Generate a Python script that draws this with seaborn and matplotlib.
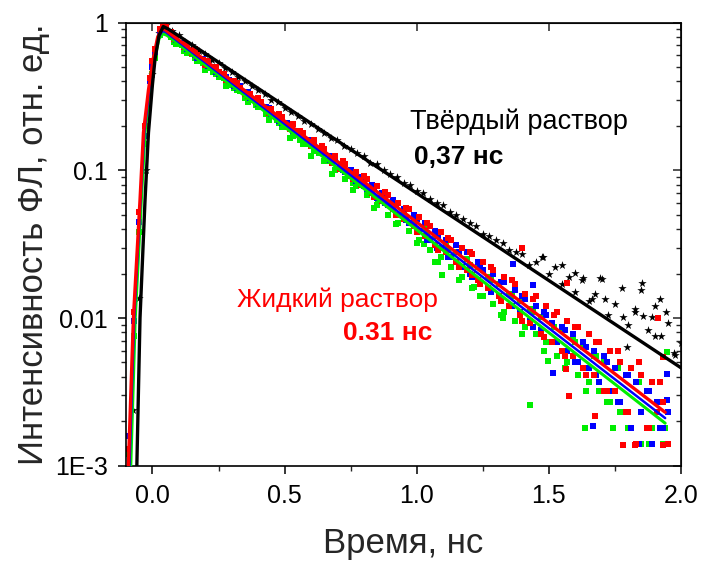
import matplotlib
matplotlib.use("Agg")
import matplotlib.pyplot as plt
import seaborn as sns
import numpy as np
from matplotlib.ticker import LogLocator, NullFormatter, MultipleLocator, FixedLocator, FixedFormatter

# ---------------- data ----------------
# time channels, liquid solution (ns)
t_liq = [-0.09, -0.07, -0.05, -0.03, -0.01, 0.01, 0.03, 0.05, 0.07, 0.09,
         0.11, 0.13, 0.15, 0.17, 0.19, 0.21, 0.23, 0.25, 0.27, 0.29,
         0.31, 0.33, 0.35, 0.37, 0.39, 0.41, 0.43, 0.45, 0.47, 0.49,
         0.51, 0.53, 0.55, 0.57, 0.59, 0.61, 0.63, 0.65, 0.67, 0.69,
         0.71, 0.73, 0.75, 0.77, 0.79, 0.81, 0.83, 0.85, 0.87, 0.89,
         0.91, 0.93, 0.95, 0.97, 0.99, 1.01, 1.03, 1.05, 1.07, 1.09,
         1.11, 1.13, 1.15, 1.17, 1.19, 1.21, 1.23, 1.25, 1.27, 1.29,
         1.31, 1.33, 1.35, 1.37, 1.39, 1.41, 1.43, 1.45, 1.47, 1.49,
         1.51, 1.53, 1.55, 1.57, 1.59, 1.61, 1.63, 1.65, 1.67, 1.69,
         1.71, 1.73, 1.75, 1.77, 1.79, 1.81, 1.83, 1.85, 1.87, 1.89,
         1.91, 1.93, 1.95]

red_pts = [0.0013, 0.011, 0.052, 0.20, 0.42, 0.66, 0.90, 0.93, 0.86, 0.80,
           0.72, 0.70, 0.62, 0.60, 0.56, 0.55, 0.49, 0.46, 0.45, 0.40,
           0.40, 0.36, 0.33, 0.33, 0.29, 0.29, 0.26, 0.26, 0.225, 0.23,
           0.20, 0.205, 0.175, 0.18, 0.155, 0.16, 0.135, 0.14, 0.12, 0.125,
           0.102, 0.11, 0.092, 0.097, 0.080, 0.088, 0.070, 0.078, 0.062, 0.068,
           0.055, 0.060, 0.047, 0.055, 0.042, 0.048, 0.036, 0.042, 0.031, 0.038,
           0.028, 0.034, 0.024, 0.030, 0.021, 0.027, 0.018, 0.024, 0.016, 0.021,
           0.014, 0.019, 0.012, 0.017, 0.0105, 0.0145, 0.0092, 0.014, 0.0078, 0.012,
           0.0069, 0.011, 0.0060, 0.0096, 0.0055, 0.0087, 0.0046, 0.0078, 0.0041, 0.0069,
           0.0032, 0.0060, 0.0032, 0.0050, 0.0023, 0.0046, 0.0014, 0.0041, 0.0018, 0.0037,
           0.0023, 0.0027, 0.0014]

blue_pts = [0.0016, 0.0095, 0.045, 0.17, 0.40, 0.63, 0.86, 0.90, 0.85, 0.76,
            0.73, 0.66, 0.64, 0.58, 0.57, 0.51, 0.50, 0.45, 0.44, 0.41,
            0.375, 0.37, 0.335, 0.31, 0.30, 0.275, 0.27, 0.24, 0.235, 0.21,
            0.21, 0.185, 0.185, 0.165, 0.16, 0.148, 0.135, 0.137, 0.118, 0.12,
            0.105, 0.098, 0.10, 0.085, 0.090, 0.075, 0.079, 0.065, 0.070, 0.058,
            0.063, 0.050, 0.055, 0.044, 0.050, 0.039, 0.044, 0.034, 0.039, 0.030,
            0.034, 0.026, 0.031, 0.022, 0.028, 0.019, 0.024, 0.021, 0.016, 0.020,
            0.014, 0.0175, 0.012, 0.0155, 0.011, 0.0135, 0.0096, 0.012, 0.0083, 0.0105,
            0.0092, 0.0069, 0.0087, 0.0060, 0.0078, 0.0050, 0.0069, 0.0046, 0.0060, 0.0037,
            0.0055, 0.0032, 0.0046, 0.0027, 0.0041, 0.0018, 0.0037, 0.0023, 0.0032, 0.0014,
            0.0027, 0.0018, 0.0023]

green_pts = [0.0012, 0.0075, 0.038, 0.15, 0.34, 0.58, 0.82, 0.87, 0.80, 0.72,
             0.70, 0.62, 0.61, 0.55, 0.53, 0.49, 0.46, 0.43, 0.42, 0.38,
             0.36, 0.345, 0.31, 0.30, 0.275, 0.27, 0.24, 0.235, 0.22, 0.195,
             0.195, 0.17, 0.175, 0.15, 0.15, 0.135, 0.13, 0.115, 0.115, 0.10,
             0.102, 0.088, 0.092, 0.078, 0.082, 0.068, 0.073, 0.058, 0.066, 0.050,
             0.057, 0.044, 0.050, 0.039, 0.044, 0.034, 0.040, 0.029, 0.036, 0.026,
             0.031, 0.022, 0.028, 0.019, 0.025, 0.016, 0.022, 0.014, 0.019, 0.0125,
             0.017, 0.011, 0.0145, 0.0096, 0.013, 0.0087, 0.0115, 0.0078, 0.0101, 0.0069,
             0.0092, 0.0055, 0.0083, 0.0050, 0.0074, 0.0041, 0.0064, 0.0037, 0.0055, 0.0032,
             0.0050, 0.0027, 0.0046, 0.0023, 0.0041, 0.0018, 0.0037, 0.0014, 0.0032, 0.0018,
             0.0027, 0.0014, 0.0023]

# intermediate time channels, liquid solution (ns)
t_liq_b = [0.00, 0.04, 0.08, 0.12, 0.16, 0.20, 0.24, 0.28, 0.32, 0.36,
           0.40, 0.44, 0.48, 0.52, 0.56, 0.60, 0.64, 0.68, 0.72, 0.76,
           0.80, 0.84, 0.88, 0.92, 0.96, 1.00, 1.04, 1.08, 1.12, 1.16,
           1.20, 1.24, 1.28, 1.32, 1.36, 1.40, 1.44, 1.48, 1.52, 1.56,
           1.60, 1.64, 1.68, 1.72, 1.76, 1.80, 1.84, 1.88, 1.92]

red_pts_b = [0.55, 0.95, 0.78, 0.68, 0.66, 0.52, 0.50, 0.41, 0.39, 0.32,
             0.31, 0.245, 0.24, 0.19, 0.185, 0.145, 0.145, 0.112, 0.115, 0.088,
             0.092, 0.066, 0.071, 0.050, 0.056, 0.038, 0.044, 0.029, 0.035, 0.022,
             0.028, 0.017, 0.022, 0.013, 0.018, 0.0096, 0.0135, 0.0074, 0.0105, 0.0055,
             0.0087, 0.0041, 0.0069, 0.0032, 0.0060, 0.0023, 0.0050, 0.0018, 0.0037]

blue_pts_b = [0.50, 0.90, 0.80, 0.70, 0.60, 0.55, 0.46, 0.43, 0.36, 0.34,
              0.28, 0.265, 0.215, 0.205, 0.17, 0.16, 0.13, 0.125, 0.10, 0.097,
              0.078, 0.075, 0.060, 0.058, 0.046, 0.047, 0.034, 0.036, 0.026, 0.028,
              0.020, 0.022, 0.015, 0.0175, 0.012, 0.014, 0.0087, 0.011, 0.0069, 0.0083,
              0.0050, 0.0064, 0.0041, 0.0050, 0.0027, 0.0041, 0.0014, 0.0032, 0.0018]

green_pts_b = [0.45, 0.86, 0.74, 0.64, 0.58, 0.48, 0.45, 0.37, 0.35, 0.29,
               0.27, 0.22, 0.21, 0.165, 0.16, 0.125, 0.13, 0.095, 0.10, 0.074,
               0.080, 0.056, 0.062, 0.043, 0.048, 0.032, 0.037, 0.024, 0.029, 0.018,
               0.023, 0.014, 0.018, 0.0105, 0.014, 0.0078, 0.011, 0.0060, 0.0087, 0.0046,
               0.0069, 0.0032, 0.0055, 0.0027, 0.0046, 0.0018, 0.0037, 0.0014, 0.0027]

# scattered outlying points of the liquid solution
red_out_t = [1.208, 1.397, 1.565, 1.567, 1.578, 1.675, 1.782, 1.826, 1.914, 1.933, 1.933]
red_out_y = [0.0195, 0.0296, 0.00452, 0.0172, 0.00296, 0.00218, 0.00139, 0.00139, 0.0100, 0.00139, 0.00547]
blue_out_t = [1.076, 1.366, 1.441, 1.517, 1.668, 1.798, 1.946, 1.946]
blue_out_y = [0.0296, 0.0232, 0.0167, 0.00422, 0.00186, 0.0023, 0.0042, 0.0028]
green_out_t = [0.760, 0.855, 1.028, 1.069, 1.095, 1.218, 1.328, 1.429, 1.498, 1.637, 1.744, 1.940, 1.946]
green_out_y = [0.0817, 0.0622, 0.0317, 0.024, 0.0195, 0.0163, 0.0100, 0.00258, 0.0051, 0.00179, 0.00179, 0.00179, 0.0059]

# time channels, solid solution (ns)
t_sol = [-0.075, -0.05, -0.025, 0.0, 0.025, 0.05, 0.075, 0.1, 0.125, 0.15,
         0.175, 0.2, 0.225, 0.25, 0.275, 0.3, 0.325, 0.35, 0.375, 0.4,
         0.425, 0.45, 0.475, 0.5, 0.525, 0.55, 0.575, 0.6, 0.625, 0.65,
         0.675, 0.7, 0.725, 0.75, 0.775, 0.8, 0.825, 0.85, 0.875, 0.9,
         0.925, 0.95, 0.975, 1.0, 1.025, 1.05, 1.075, 1.1, 1.125, 1.15,
         1.175, 1.2, 1.225, 1.25, 1.275, 1.3, 1.325, 1.35, 1.375, 1.4,
         1.425, 1.45, 1.475, 1.5, 1.525, 1.55, 1.575, 1.6, 1.625, 1.65,
         1.675, 1.7, 1.725, 1.75, 1.775, 1.8, 1.825, 1.85, 1.875, 1.9,
         1.925, 1.95, 1.975, 2.0]

black_pts = [0.0024, 0.0137, 0.10, 0.45, 0.85, 0.96, 0.88, 0.82, 0.74, 0.70,
             0.64, 0.61, 0.56, 0.53, 0.49, 0.46, 0.43, 0.40, 0.37, 0.35,
             0.33, 0.30, 0.29, 0.265, 0.25, 0.235, 0.215, 0.205, 0.19, 0.18,
             0.165, 0.16, 0.145, 0.14, 0.13, 0.125, 0.112, 0.11, 0.10, 0.095,
             0.090, 0.082, 0.080, 0.072, 0.070, 0.064, 0.060, 0.058, 0.052, 0.050,
             0.047, 0.044, 0.042, 0.037, 0.036, 0.034, 0.032, 0.029, 0.028, 0.027,
             0.023, 0.024, 0.026, 0.020, 0.022, 0.017, 0.019, 0.015, 0.018, 0.013,
             0.0145, 0.0185, 0.0105, 0.0125, 0.016, 0.009, 0.0115, 0.0155, 0.0083, 0.012,
             0.0075, 0.0092, 0.0058, 0.0068]

# extra solid-solution points in the tail
black_out_t = [1.479, 1.549, 1.599, 1.630, 1.662, 1.694, 1.712, 1.782, 1.795, 1.826,
               1.851, 1.857, 1.889, 1.900, 1.920, 1.943, 1.977]
black_out_y = [0.026, 0.0229, 0.0203, 0.0186, 0.0134, 0.0186, 0.0134, 0.0101, 0.00634, 0.0109,
               0.0173, 0.0103, 0.0102, 0.00755, 0.0134, 0.0109, 0.0056]

# fitted curves (knots)
fit_black_t = [-0.059, -0.047, -0.028, -0.015, 0.0, 0.01, 0.025, 0.041, 0.06, 2.0]
fit_black_y = [0.001, 0.01, 0.063, 0.18, 0.38, 0.57, 0.82, 0.94, 0.905, 0.0046]
fit_red_t = [-0.091, -0.072, -0.047, -0.034, -0.015, 0.003, 0.02, 0.035, 0.05, 1.94]
fit_red_y = [0.001, 0.01, 0.063, 0.18, 0.35, 0.57, 0.80, 0.91, 0.89, 0.0023]
fit_blue_t = [-0.087, -0.069, -0.045, -0.031, -0.012, 0.005, 0.022, 0.038, 0.052, 1.94]
fit_blue_y = [0.001, 0.01, 0.063, 0.18, 0.35, 0.57, 0.79, 0.88, 0.86, 0.0021]
fit_green_t = [-0.082, -0.065, -0.042, -0.028, -0.010, 0.008, 0.025, 0.040, 0.055, 1.94]
fit_green_y = [0.001, 0.01, 0.063, 0.18, 0.35, 0.57, 0.78, 0.84, 0.82, 0.00194]

y_ticks = [0.001, 0.01, 0.1, 1]
y_tick_labels = ["1E-3", "0.01", "0.1", "1"]
x_ticks = [0.0, 0.5, 1.0, 1.5, 2.0]
x_tick_labels = ["0.0", "0.5", "1.0", "1.5", "2.0"]

# ---------------- plotting ----------------
sns.set_style("ticks")
plt.rcParams["font.family"] = ["Liberation Sans", "DejaVu Sans"]

fig = plt.figure(figsize=(7.02, 5.64), dpi=100)
ax = fig.add_axes([0.1795, 0.1743, 0.7906, 0.7856])

GREEN, BLUE, RED = "#00ee00", "#0000ff", "#ff0000"
sq = dict(marker="s", s=15, linewidth=0, ax=ax, legend=False, zorder=2)
st = dict(marker="*", s=40, linewidth=0, color="black", ax=ax, legend=False, zorder=2)
sns.scatterplot(x=t_sol, y=black_pts, **st)
sns.scatterplot(x=black_out_t, y=black_out_y, **st)
sns.scatterplot(x=t_liq, y=green_pts, color=GREEN, **sq)
sns.scatterplot(x=t_liq_b, y=green_pts_b, color=GREEN, **sq)
sns.scatterplot(x=green_out_t, y=green_out_y, color=GREEN, **sq)
sns.scatterplot(x=t_liq, y=blue_pts, color=BLUE, **sq)
sns.scatterplot(x=t_liq_b, y=blue_pts_b, color=BLUE, **sq)
sns.scatterplot(x=blue_out_t, y=blue_out_y, color=BLUE, **sq)
sns.scatterplot(x=t_liq, y=red_pts, color=RED, **sq)
sns.scatterplot(x=t_liq_b, y=red_pts_b, color=RED, **sq)
sns.scatterplot(x=red_out_t, y=red_out_y, color=RED, **sq)

sns.lineplot(x=fit_green_t, y=fit_green_y, color=GREEN, lw=2.2, ax=ax, sort=False, estimator=None, zorder=3)
sns.lineplot(x=fit_blue_t, y=fit_blue_y, color=BLUE, lw=1.8, ax=ax, sort=False, estimator=None, zorder=3)
sns.lineplot(x=fit_red_t, y=fit_red_y, color=RED, lw=2.4, ax=ax, sort=False, estimator=None, zorder=4)
sns.lineplot(x=fit_black_t, y=fit_black_y, color="black", lw=2.4, ax=ax, sort=False, estimator=None, zorder=5)

ax.set_yscale("log")
ax.set_xlim(-0.1, 2.0)
ax.set_ylim(0.001, 1)

ax.yaxis.set_major_locator(FixedLocator(y_ticks))
ax.yaxis.set_major_formatter(FixedFormatter(y_tick_labels))
ax.yaxis.set_minor_locator(LogLocator(base=10, subs=np.arange(2, 10)))
ax.yaxis.set_minor_formatter(NullFormatter())
ax.xaxis.set_major_locator(FixedLocator(x_ticks))
ax.xaxis.set_major_formatter(FixedFormatter(x_tick_labels))
ax.xaxis.set_minor_locator(MultipleLocator(0.25))

for s in ax.spines.values():
    s.set_linewidth(1.2)
    s.set_color("black")
    s.set_visible(True)

ax.tick_params(axis="both", which="major", direction="out", length=6, width=1.1,
               labelsize=18, colors="black")
ax.tick_params(axis="both", which="minor", direction="out", length=3.5, width=1.0)
ax.tick_params(axis="x", which="major", pad=7)
ax.tick_params(axis="y", which="major", pad=7)

# mirrored inward ticks on top and right
top = ax.secondary_xaxis("top")
top.set_xticks(x_ticks)
top.tick_params(direction="in", length=6, width=1.1, labeltop=False)
top.xaxis.set_minor_locator(FixedLocator([]))
right = ax.secondary_yaxis("right")
right.set_yticks(y_ticks)
right.yaxis.set_minor_locator(LogLocator(base=10, subs=np.arange(2, 10)))
right.tick_params(which="major", direction="in", length=6, width=1.1, labelright=False)
right.tick_params(which="minor", direction="in", length=3.5, width=1.0, labelright=False)

ax.set_xlabel("Время, нс", fontsize=25, labelpad=14)
ax.set_ylabel("Интенсивность ФЛ, отн. ед.", fontsize=25, labelpad=4)

ax.text(0.975, 0.212, "Твёрдый раствор", fontsize=19.5, color="black", va="center", ha="left")
ax.text(0.99, 0.123, "0,37 нс", fontsize=19, fontweight="bold", color="black", va="center", ha="left")
ax.text(0.32, 0.01325, "Жидкий раствор", fontsize=19, color=RED, va="center", ha="left")
ax.text(0.72, 0.0079, "0.31 нс", fontsize=19, fontweight="bold", color=RED, va="center", ha="left")

fig.savefig("out.png", dpi=100)
